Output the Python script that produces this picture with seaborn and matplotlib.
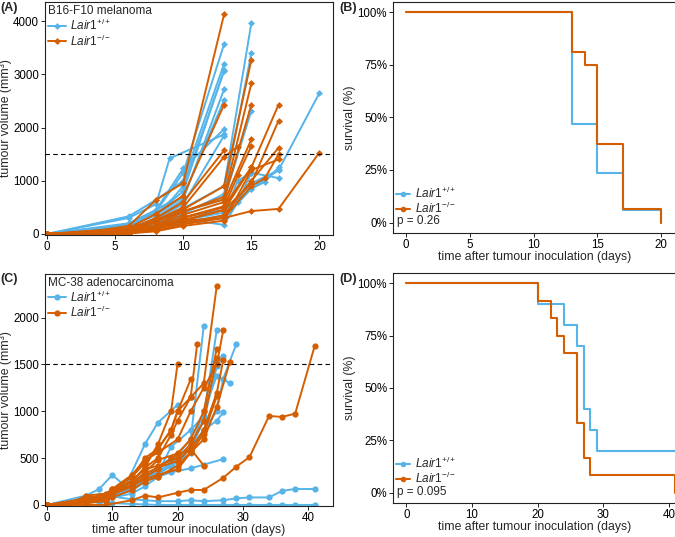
import numpy as np
import pandas as pd
import matplotlib
matplotlib.use("Agg")
import matplotlib.pyplot as plt
from matplotlib.lines import Line2D
import seaborn as sns

sns.set_theme(style="ticks")
plt.rcParams["font.family"] = ["Liberation Sans", "DejaVu Sans"]
plt.rcParams["mathtext.fontset"] = "custom"
plt.rcParams["mathtext.rm"] = "Liberation Sans"
plt.rcParams["mathtext.it"] = "Liberation Sans:italic"

BLUE = "#56B4E9"
ORANGE = "#D55E00"
WT = r"$\mathit{Lair1}^{+/+}$"
KO = r"$\mathit{Lair1}^{-/-}$"

# ---- B16-F10 tumour growth (one list per mouse) ----
b16_wt_days = [
    [0, 2, 6, 8, 10, 13], [0, 6, 8, 10, 13], [0, 6, 8, 10, 13], [0, 6, 8, 9, 10, 13],
    [0, 6, 8, 10, 13], [0, 6, 8, 10, 13], [0, 6, 8, 9, 13], [0, 6, 8, 10, 13],
    [0, 6, 8, 10, 13], [0, 6, 8, 10, 13, 15], [0, 6, 8, 10, 13, 15], [0, 6, 8, 10, 13, 15],
    [0, 6, 8, 10, 13, 14, 15], [0, 6, 8, 10, 13, 15, 16, 17], [0, 6, 8, 10, 13, 15, 17],
    [0, 6, 8, 10, 13, 14, 15, 17], [0, 6, 8, 10, 13, 15, 17, 20],
]
b16_wt_vol = [
    [0, 15, 150, 420, 1150, 3570], [0, 330, 640, 1000, 3200], [0, 120, 380, 800, 3080],
    [0, 200, 450, 600, 900, 3060], [0, 90, 300, 650, 2720], [0, 150, 350, 700, 2520],
    [0, 300, 560, 1420, 1870], [0, 180, 450, 1230, 1970], [0, 100, 280, 560, 1850],
    [0, 70, 250, 480, 900, 3960], [0, 50, 200, 380, 750, 3400], [0, 80, 230, 420, 650, 2320],
    [0, 40, 120, 280, 170, 600, 1150], [0, 60, 160, 320, 450, 850, 980, 1250],
    [0, 40, 130, 260, 400, 950, 1200], [0, 25, 100, 220, 350, 1000, 1150, 1050],
    [0, 30, 110, 200, 300, 850, 1200, 2650],
]
b16_ko_days = [
    [0, 2, 6, 8, 10, 13], [0, 6, 8, 10, 13], [0, 6, 8, 10, 13], [0, 6, 8, 10, 13, 14],
    [0, 6, 8, 10, 13, 15], [0, 6, 8, 10, 13, 15], [0, 6, 8, 10, 13, 15], [0, 6, 8, 10, 13, 15],
    [0, 2, 6, 8, 10, 13, 14, 15], [0, 6, 8, 10, 13, 15], [0, 6, 8, 10, 13, 15, 17],
    [0, 6, 8, 10, 13, 15, 17], [0, 6, 8, 10, 13, 15, 17], [0, 6, 8, 10, 13, 15, 16, 17],
    [0, 6, 8, 10, 13, 15, 17], [0, 2, 6, 8, 10, 13, 15, 17, 20],
]
b16_ko_vol = [
    [0, 0, 150, 640, 960, 4130], [0, 110, 380, 720, 2430], [0, 90, 300, 600, 1570],
    [0, 70, 260, 500, 1450, 1640], [0, 60, 220, 460, 900, 3270], [0, 50, 170, 420, 700, 2830],
    [0, 70, 240, 430, 650, 2430], [0, 40, 160, 360, 600, 1780],
    [0, 0, 20, 130, 300, 500, 1100, 1650], [0, 45, 110, 260, 450, 1250],
    [0, 30, 130, 310, 520, 1250, 2430], [0, 20, 90, 250, 450, 950, 2130],
    [0, 10, 100, 200, 350, 1000, 1620], [0, 20, 60, 180, 300, 900, 1050, 1500],
    [0, 10, 50, 150, 250, 1200, 1400], [0, 0, 0, 100, 250, 300, 430, 470, 1530],
]

# ---- MC-38 tumour growth ----
mc38_wt_days = [
    [0, 6, 8, 10, 12, 15, 17, 20],
    [0, 6, 8, 10, 13, 15, 17, 19, 22, 24],
    [0, 6, 8, 10, 13, 15, 17, 19, 22, 24, 26],
    [0, 6, 8, 10, 13, 15, 17, 19, 22, 24, 26, 27],
    [0, 6, 8, 10, 13, 15, 17, 19, 22, 24, 26, 27],
    [0, 6, 8, 10, 13, 15, 17, 19, 22, 24, 27],
    [0, 6, 8, 10, 13, 15, 17, 19, 22, 24, 26, 28],
    [0, 6, 8, 10, 13, 15, 17, 19, 22, 24, 26, 27, 29],
    [0, 6, 8, 10, 13, 15, 17, 20, 22, 24, 27, 29, 31, 34, 36, 38, 41],
    [0, 6, 8, 10, 13, 15, 17, 20, 22, 24, 27, 29, 31, 34, 36, 38, 41],
]
mc38_wt_vol = [
    [0, 100, 170, 320, 200, 650, 880, 1070],
    [0, 50, 100, 150, 200, 300, 350, 450, 700, 1910],
    [0, 40, 80, 120, 180, 280, 340, 620, 800, 950, 1870],
    [0, 60, 100, 150, 250, 330, 400, 500, 600, 900, 1480, 1590],
    [0, 30, 70, 100, 150, 250, 330, 430, 600, 800, 900, 990],
    [0, 20, 50, 80, 120, 200, 300, 350, 390, 430, 490],
    [0, 50, 90, 130, 180, 300, 380, 400, 600, 1000, 1380, 1300],
    [0, 40, 70, 120, 170, 250, 320, 420, 550, 800, 1000, 1350, 1720],
    [0, 60, 80, 90, 60, 50, 40, 40, 50, 40, 50, 70, 80, 80, 150, 170, 170],
    [0, 30, 30, 20, 10, 5, 0, 0, 0, 0, 0, 0, 0, 0, 0, 0, 0],
]
mc38_ko_days = [
    [0, 3, 6, 9, 10, 13, 15, 17, 19, 20],
    [0, 3, 6, 9, 10, 13, 15, 17, 19, 20, 22],
    [0, 6, 9, 10, 13, 15, 17, 19, 20, 22, 23],
    [0, 6, 9, 10, 13, 15, 17, 19, 22, 24],
    [0, 6, 9, 10, 13, 15, 17, 19, 20, 22, 24, 26],
    [0, 6, 9, 10, 13, 15, 17, 20, 22, 24, 26],
    [0, 6, 9, 10, 13, 15, 17, 20, 22, 24, 26],
    [0, 6, 9, 10, 13, 15, 17, 20, 22, 24, 26],
    [0, 6, 9, 10, 13, 15, 17, 20, 22, 24, 26, 27],
    [0, 6, 9, 10, 13, 15, 17, 20, 22, 24, 26, 27],
    [0, 6, 9, 10, 13, 15, 17, 20, 22, 24, 26, 28],
    [0, 3, 6, 9, 13, 15, 17, 20, 22, 24, 27, 29, 31, 34, 36, 38, 41],
]
mc38_ko_vol = [
    [0, 0, 100, 120, 170, 250, 400, 650, 1000, 1510],
    [0, 0, 80, 100, 150, 300, 500, 600, 800, 1000, 1340],
    [0, 50, 90, 140, 250, 400, 500, 750, 900, 1150, 1720],
    [0, 40, 80, 120, 200, 300, 380, 500, 600, 420],
    [0, 70, 110, 160, 300, 450, 600, 800, 1000, 1150, 1300, 2340],
    [0, 30, 60, 130, 220, 350, 480, 550, 700, 1000, 1670],
    [0, 40, 80, 140, 260, 380, 420, 500, 650, 900, 1570],
    [0, 20, 50, 110, 200, 280, 320, 380, 560, 760, 1160],
    [0, 60, 100, 170, 320, 480, 560, 700, 1000, 1250, 1500, 1870],
    [0, 30, 70, 120, 220, 330, 400, 470, 600, 800, 1200, 1550],
    [0, 20, 40, 80, 160, 250, 300, 420, 560, 700, 1050, 1530],
    [0, 0, 0, 0, 50, 100, 80, 130, 160, 160, 290, 410, 510, 950, 940, 975, 1700],
]

# ---- Kaplan-Meier steps (survival %) ----
b16_km_wt_t = [0, 13, 15, 17, 20]
b16_km_wt_s = [100, 47.1, 23.5, 5.9, 0]
b16_km_ko_t = [0, 13, 14, 15, 17, 20]
b16_km_ko_s = [100, 81.25, 75, 37.5, 6.25, 0]
mc38_km_wt_t = [0, 20, 24, 26, 27, 28, 29, 41]
mc38_km_wt_s = [100, 90, 80, 70, 40, 30, 20, 20]
mc38_km_ko_t = [0, 20, 22, 23, 24, 26, 27, 28, 41]
mc38_km_ko_s = [100, 91.7, 83.3, 75, 66.7, 33.3, 16.7, 8.3, 0]


def to_long(days, vols, genotype, prefix):
    rows = []
    for i, (d, v) in enumerate(zip(days, vols)):
        for x, y in zip(d, v):
            rows.append({"day": x, "volume": y, "genotype": genotype, "mouse": f"{prefix}{i}"})
    return rows


b16 = pd.DataFrame(to_long(b16_wt_days, b16_wt_vol, "wt", "w") + to_long(b16_ko_days, b16_ko_vol, "ko", "k"))
mc38 = pd.DataFrame(to_long(mc38_wt_days, mc38_wt_vol, "wt", "w") + to_long(mc38_ko_days, mc38_ko_vol, "ko", "k"))
pal = {"wt": BLUE, "ko": ORANGE}

TICK_FS = 8.3
LAB_FS = 8.8
LEG_FS = 8.5
fig = plt.figure(figsize=(6.75, 5.37), dpi=100)
axA = fig.add_axes([0.0667, 0.5624, 0.4267, 0.4339])
axB = fig.add_axes([0.5822, 0.5661, 0.4193, 0.4302])
axC = fig.add_axes([0.0667, 0.0580, 0.4267, 0.4320])
axD = fig.add_axes([0.5822, 0.0630, 0.4193, 0.4290])


def style(ax):
    for sp in ax.spines.values():
        sp.set_visible(True)
        sp.set_color("#222222")
        sp.set_linewidth(0.8)
    ax.tick_params(labelsize=TICK_FS, length=3, width=0.7, pad=1.2, colors="#222222", labelcolor="black")


def growth(ax, df, marker, ms, title):
    sns.lineplot(data=df, x="day", y="volume", hue="genotype", hue_order=["wt", "ko"],
                 units="mouse", estimator=None, sort=False, palette=pal, marker=marker,
                 markersize=ms, markeredgewidth=0, linewidth=1.4, legend=False, ax=ax)
    ax.axhline(1500, color="black", ls=(0, (4, 3)), lw=0.8)
    handles = [Line2D([], [], color=BLUE, marker=marker, ms=ms, mew=0, lw=1.4),
               Line2D([], [], color=ORANGE, marker=marker, ms=ms, mew=0, lw=1.4)]
    ax.legend(handles, [WT, KO], title=title, loc="upper left", frameon=False,
              alignment="left", fontsize=LEG_FS, title_fontsize=LEG_FS, handlelength=1.5,
              borderaxespad=0.15, borderpad=0.1, labelspacing=0.05, handletextpad=0.4)
    ax.set_ylabel("tumour volume (mm³)", fontsize=LAB_FS, labelpad=1)
    style(ax)


def survival(ax, t1, s1, t2, s2, pval):
    sns.lineplot(x=t1, y=s1, drawstyle="steps-post", color=BLUE, lw=1.5, ax=ax)
    sns.lineplot(x=t2, y=s2, drawstyle="steps-post", color=ORANGE, lw=1.5, ax=ax)
    ax.set_ylim(-5, 105)
    ax.set_yticks([0, 25, 50, 75, 100])
    ax.set_yticklabels(["0%", "25%", "50%", "75%", "100%"])
    handles = [Line2D([], [], color=BLUE, marker="o", ms=4, mew=0, lw=1.5),
               Line2D([], [], color=ORANGE, marker="o", ms=4, mew=0, lw=1.5)]
    ax.legend(handles, [WT, KO], loc="lower left", bbox_to_anchor=(0.0, 0.06), frameon=False,
              fontsize=LEG_FS, handlelength=1.2, borderaxespad=0.15, borderpad=0.1,
              labelspacing=0.0, handletextpad=0.4)
    ax.text(0.015, 0.05, f"p = {pval}", transform=ax.transAxes, va="center", fontsize=LEG_FS)
    ax.set_ylabel("survival (%)", fontsize=LAB_FS, labelpad=1)
    ax.set_xlabel("time after tumour inoculation (days)", fontsize=LAB_FS, labelpad=0.3)
    style(ax)


growth(axA, b16, "D", 3.5, "B16-F10 melanoma")
axA.set_xlim(-0.15, 21)
axA.set_ylim(-20, 4360)
axA.set_xticks([0, 5, 10, 15, 20])
axA.set_yticks([0, 1000, 2000, 3000, 4000])
axA.set_xlabel("")

growth(axC, mc38, "o", 4.5, "MC-38 adenocarcinoma")
axC.set_xlim(-0.3, 43.8)
axC.set_ylim(-10, 2468)
axC.set_xticks([0, 10, 20, 30, 40])
axC.set_yticks([0, 500, 1000, 1500, 2000])
axC.set_xlabel("time after tumour inoculation (days)", fontsize=LAB_FS, labelpad=0.3)

survival(axB, b16_km_wt_t, b16_km_wt_s, b16_km_ko_t, b16_km_ko_s, "0.26")
axB.set_xlim(-1, 21.15)
axB.set_xticks([0, 5, 10, 15, 20])

survival(axD, mc38_km_wt_t, mc38_km_wt_s, mc38_km_ko_t, mc38_km_ko_s, "0.095")
axD.set_xlim(-2.05, 41.1)
axD.set_xticks([0, 10, 20, 30, 40])

for x, y, lab in [(0.0, 0.986, "(A)"), (0.503, 0.986, "(B)"), (0.0, 0.481, "(C)"), (0.503, 0.481, "(D)")]:
    fig.text(x, y, lab, fontsize=9, fontweight="bold", va="center", ha="left")

fig.savefig("out.png", dpi=100)
